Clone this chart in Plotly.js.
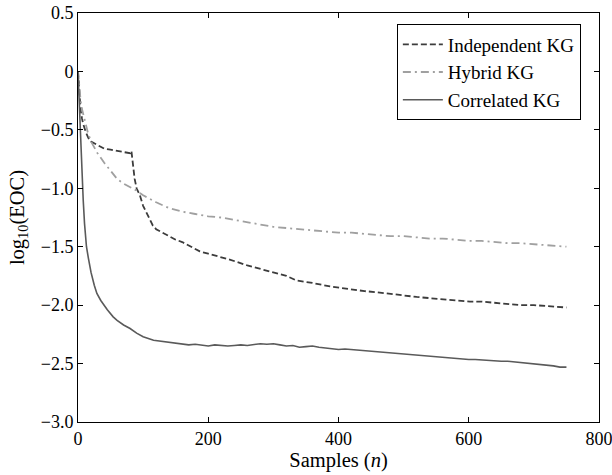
<!DOCTYPE html>
<html>
<head>
<meta charset="utf-8">
<script src="https://cdn.plot.ly/plotly-3.0.1.min.js"></script>
<style>html,body{margin:0;padding:0;background:#fff;}#chart{width:612px;height:475px;}</style>
</head>
<body>
<div id="chart"></div>
<script>
// Independent KG
const indepN = [0,2,4,6,8,12,16,20,30,40,50,60,70,80,82,84,87,90,95,100,110,115,120,130,140,150,160,170,187,200,220,233,260,285,300,320,336,360,387,400,420,440,460,474,500,520,540,560,580,602,620,640,660,680,700,720,740,750];
const indepY = [0,-0.2,-0.33,-0.4,-0.45,-0.52,-0.57,-0.6,-0.63,-0.66,-0.67,-0.68,-0.69,-0.7,-0.68,-0.8,-0.92,-1.0,-1.06,-1.15,-1.27,-1.32,-1.35,-1.38,-1.41,-1.44,-1.46,-1.49,-1.54,-1.56,-1.59,-1.61,-1.66,-1.70,-1.72,-1.75,-1.79,-1.81,-1.84,-1.85,-1.87,-1.88,-1.89,-1.90,-1.92,-1.93,-1.94,-1.95,-1.96,-1.97,-1.97,-1.98,-1.99,-2.0,-2.0,-2.01,-2.02,-2.02];
// Hybrid KG
const hybN = [0,2,4,6,10,15,20,30,40,50,60,70,80,90,100,120,140,160,180,200,220,240,260,280,300,320,340,360,380,400,420,440,460,480,500,520,540,560,580,600,620,640,660,680,700,720,740,750];
const hybY = [0,-0.15,-0.25,-0.32,-0.42,-0.52,-0.6,-0.7,-0.78,-0.85,-0.92,-0.96,-0.99,-1.02,-1.06,-1.12,-1.17,-1.2,-1.22,-1.24,-1.25,-1.27,-1.29,-1.31,-1.33,-1.34,-1.35,-1.36,-1.37,-1.38,-1.38,-1.39,-1.40,-1.41,-1.41,-1.42,-1.43,-1.43,-1.44,-1.45,-1.45,-1.46,-1.47,-1.47,-1.48,-1.49,-1.50,-1.50];
// Correlated KG
const corrN = [0,2,4,6,8,10,13,16,20,25,29,35,40,45,54,60,70,80,90,100,116,130,145,160,170,180,190,200,210,220,230,240,250,260,270,280,290,300,310,320,330,340,350,360,370,380,390,400,410,420,430,440,450,460,470,480,490,500,510,520,530,540,550,560,570,580,590,600,610,620,630,640,650,660,670,680,690,700,710,720,730,740,750];
const corrY = [0,-0.3,-0.6,-0.9,-1.1,-1.3,-1.5,-1.6,-1.72,-1.83,-1.9,-1.96,-2.0,-2.04,-2.1,-2.13,-2.17,-2.2,-2.24,-2.27,-2.3,-2.31,-2.32,-2.33,-2.34,-2.335,-2.345,-2.35,-2.34,-2.345,-2.35,-2.345,-2.34,-2.345,-2.335,-2.33,-2.335,-2.33,-2.34,-2.35,-2.345,-2.36,-2.355,-2.35,-2.36,-2.365,-2.37,-2.38,-2.375,-2.38,-2.385,-2.39,-2.39,-2.40,-2.405,-2.41,-2.41,-2.42,-2.42,-2.425,-2.43,-2.44,-2.44,-2.45,-2.45,-2.455,-2.46,-2.465,-2.465,-2.47,-2.47,-2.475,-2.48,-2.48,-2.485,-2.49,-2.495,-2.50,-2.505,-2.51,-2.52,-2.53,-2.53];

const xTicks = [0,200,400,600,800];
const yTickVals = [0.5,0,-0.5,-1.0,-1.5,-2.0,-2.5,-3.0];
const yTickText = ['0.5','0','\u22120.5','\u22121.0','\u22121.5','\u22122.0','\u22122.5','\u22123.0'];

const fam = '"Liberation Serif", "Times New Roman", serif';
const tickFont = {family: fam, size: 18, color: '#000'};
const titleFont = {family: fam, size: 20.5, color: '#000'};
const legendFont = {family: fam, size: 19, color: '#000'};

const traces = [
  {x: indepN, y: indepY, name: 'Independent KG', mode: 'lines', line: {color: '#3c3c3c', width: 1.8, dash: '6px,3px'}},
  {x: hybN, y: hybY, name: 'Hybrid KG', mode: 'lines', line: {color: '#a0a0a0', width: 1.8, dash: '8px,4px,2px,4px'}},
  {x: corrN, y: corrY, name: 'Correlated KG', mode: 'lines', line: {color: '#5a5a5a', width: 1.6}}
];

const axisCommon = {showgrid: false, zeroline: false, showline: true, linecolor: '#000', linewidth: 1, mirror: 'ticks', ticks: 'inside', ticklen: 5, tickcolor: '#000', tickfont: tickFont, ticklabeloverflow: 'allow'};

const layout = {
  width: 612, height: 475,
  margin: {l: 78, r: 13, t: 13, b: 53},
  paper_bgcolor: '#fff', plot_bgcolor: '#fff',
  font: tickFont,
  showlegend: true,
  legend: {x: 0.612, y: 0.972, xanchor: 'left', yanchor: 'top', bordercolor: '#000', borderwidth: 1, bgcolor: '#fff', font: legendFont, tracegroupgap: 0, itemwidth: 40},
  xaxis: Object.assign({}, axisCommon, {range: [0, 800], tickvals: xTicks, ticktext: xTicks.map(String), title: {text: 'Samples (<i>n</i>)', font: titleFont, standoff: 5}}),
  yaxis: Object.assign({}, axisCommon, {range: [-3, 0.5], tickvals: yTickVals, ticktext: yTickText, title: {text: 'log<sub>10</sub>(EOC)', font: titleFont, standoff: 10}})
};

Plotly.newPlot('chart', traces, layout, {displayModeBar: false, staticPlot: true});
</script>
</body>
</html>
